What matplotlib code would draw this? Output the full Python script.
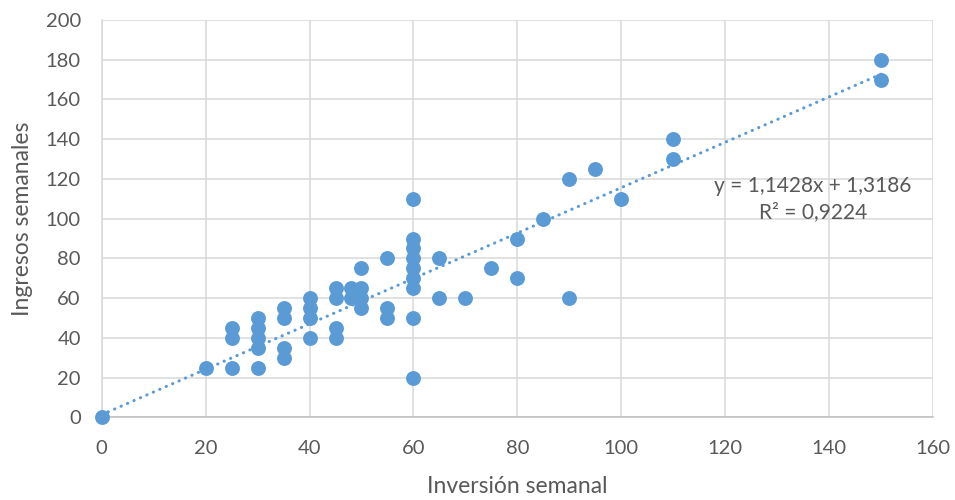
import numpy as np
import matplotlib
matplotlib.use("Agg")
import matplotlib.pyplot as plt

# weekly investment vs weekly income
inversion = [0, 20, 25, 25, 25, 30, 30, 30, 30, 30, 35, 35, 35, 35,
             40, 40, 40, 40, 45, 45, 45, 45, 48, 48, 49, 50, 50, 50, 50,
             55, 55, 55, 60, 60, 60, 60, 60, 60, 60, 60, 60, 65, 65, 70,
             75, 80, 80, 85, 90, 90, 95, 100, 110, 110, 150, 150]
ingresos = [0, 25, 45, 40, 25, 50, 45, 40, 35, 25, 55, 50, 35, 30,
            60, 55, 50, 40, 65, 60, 45, 40, 65, 60, 62, 65, 60, 55, 75,
            80, 55, 50, 110, 90, 85, 80, 75, 70, 65, 50, 20, 80, 60, 60,
            75, 90, 70, 100, 120, 60, 125, 110, 140, 130, 180, 170]

pendiente = 1.1428
intercepto = 1.3186
r2 = 0.9224

azul = "#5B9BD5"
gris = "#595959"

plt.rcParams['font.family'] = ['Lato', 'DejaVu Sans']

fig = plt.figure(figsize=(9.55, 5.0), dpi=100)
ax = fig.add_axes([0.1065, 0.1654, 0.8705, 0.7946])

ax.scatter(inversion, ingresos, s=115, color=azul, zorder=3, linewidths=0,
           clip_on=False)

xs = np.array([0, 150])
ax.plot(xs, pendiente * xs + intercepto, color=azul, lw=2.2,
        linestyle=(0, (0.1, 2.2)), dash_capstyle='round', zorder=2)

ax.set_xlim(0, 160)
ax.set_ylim(0, 200)
ax.set_xticks(range(0, 161, 20))
ax.set_yticks(range(0, 201, 20))
ax.grid(True, color="#D9D9D9", lw=1.1, zorder=0)
ax.set_axisbelow(True)
for s in ['top', 'right']:
    ax.spines[s].set_visible(False)
ax.spines['left'].set_color("#D9D9D9")
ax.spines['bottom'].set_color("#BFBFBF")
ax.spines['left'].set_linewidth(1.1)
ax.spines['bottom'].set_linewidth(1.1)
ax.tick_params(length=0, labelsize=14.5, colors=gris)
ax.tick_params(axis='x', pad=16)
ax.tick_params(axis='y', pad=15)

ax.set_xlabel("Inversión semanal", fontsize=16.5, color=gris, labelpad=14)
ax.set_ylabel("Ingresos semanales", fontsize=16.5, color=gris, labelpad=9)

ax.text(813, 500 - 199, "y = 1,1428x + 1,3186\nR² = 0,9224", transform=None,
        ha='center', va='center', fontsize=15, color=gris, linespacing=1.4)

fig.savefig("out.png", dpi=100)
